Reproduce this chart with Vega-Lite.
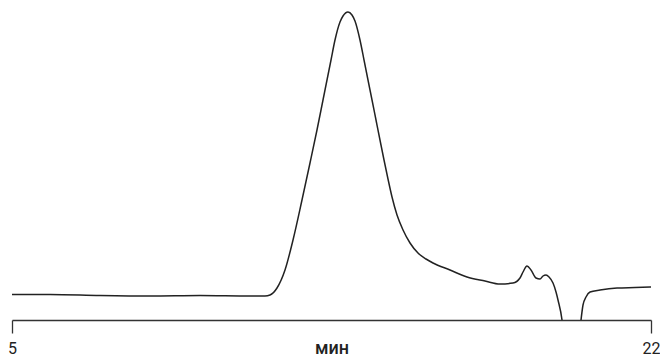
{
  "$schema": "https://vega.github.io/schema/vega-lite/v6.json",
  "width": 639,
  "height": 320,
  "autosize": {"type": "none"},
  "padding": {"left": 12, "top": 0, "right": 9, "bottom": 36},
  "background": "white",
  "config": {"view": {"stroke": null}},
  "data": {"values": [
    {"t": 5.000, "v": 25.5},
    {"t": 6.011, "v": 25.5},
    {"t": 7.341, "v": 24.5},
    {"t": 8.671, "v": 24},
    {"t": 10.002, "v": 24.5},
    {"t": 11.332, "v": 24},
    {"t": 11.731, "v": 24},
    {"t": 11.864, "v": 25},
    {"t": 12.050, "v": 32},
    {"t": 12.263, "v": 50},
    {"t": 12.476, "v": 80},
    {"t": 12.715, "v": 120},
    {"t": 12.928, "v": 157},
    {"t": 13.114, "v": 190},
    {"t": 13.274, "v": 220},
    {"t": 13.487, "v": 260},
    {"t": 13.593, "v": 280},
    {"t": 13.726, "v": 298},
    {"t": 13.806, "v": 304},
    {"t": 13.939, "v": 308},
    {"t": 14.045, "v": 305},
    {"t": 14.125, "v": 299},
    {"t": 14.258, "v": 280},
    {"t": 14.365, "v": 260},
    {"t": 14.471, "v": 240},
    {"t": 14.578, "v": 220},
    {"t": 14.684, "v": 200},
    {"t": 14.790, "v": 180},
    {"t": 14.897, "v": 160},
    {"t": 15.003, "v": 141},
    {"t": 15.110, "v": 123},
    {"t": 15.243, "v": 105},
    {"t": 15.403, "v": 90},
    {"t": 15.589, "v": 77},
    {"t": 15.801, "v": 67},
    {"t": 16.014, "v": 61},
    {"t": 16.200, "v": 57},
    {"t": 16.653, "v": 50},
    {"t": 17.105, "v": 43},
    {"t": 17.584, "v": 39},
    {"t": 17.983, "v": 36},
    {"t": 18.329, "v": 37},
    {"t": 18.515, "v": 42},
    {"t": 18.595, "v": 48},
    {"t": 18.701, "v": 54},
    {"t": 18.808, "v": 50},
    {"t": 18.941, "v": 42},
    {"t": 19.047, "v": 41},
    {"t": 19.127, "v": 44},
    {"t": 19.207, "v": 45},
    {"t": 19.287, "v": 43},
    {"t": 19.393, "v": 37},
    {"t": 19.473, "v": 28},
    {"t": 19.526, "v": 20},
    {"t": 19.633, "v": 0},
    {"t": 19.712, "v": -30},
    {"t": 20.058, "v": -30},
    {"t": 20.138, "v": 0},
    {"t": 20.191, "v": 15},
    {"t": 20.271, "v": 23},
    {"t": 20.378, "v": 28},
    {"t": 20.644, "v": 30},
    {"t": 21.096, "v": 32},
    {"t": 21.575, "v": 32.5},
    {"t": 22.000, "v": 33}
  ]},
  "mark": {"type": "line", "interpolate": "monotone", "clip": true, "color": "#222222", "strokeWidth": 1.5},
  "encoding": {
    "x": {
      "field": "t", "type": "quantitative",
      "scale": {"domain": [5, 22], "nice": false, "zero": false},
      "axis": {
        "values": [5, 22],
        "title": "мин",
        "grid": false,
        "domainColor": "#333333",
        "domainWidth": 1.3,
        "tickColor": "#333333",
        "tickWidth": 1.3,
        "tickSize": 13,
        "labelFont": "Roboto",
        "labelFontSize": 16,
        "labelColor": "#222222",
        "labelAlign": "center",
        "labelFlush": false,
        "labelBaseline": "alphabetic",
        "labelPadding": 20,
        "titleFont": "Roboto",
        "titleFontSize": 18,
        "titleFontWeight": 500,
        "titleColor": "#222222",
        "titleBaseline": "alphabetic",
        "titleY": 33
      }
    },
    "y": {
      "field": "v", "type": "quantitative",
      "scale": {"domain": [0, 320], "nice": false},
      "axis": null
    }
  }
}
